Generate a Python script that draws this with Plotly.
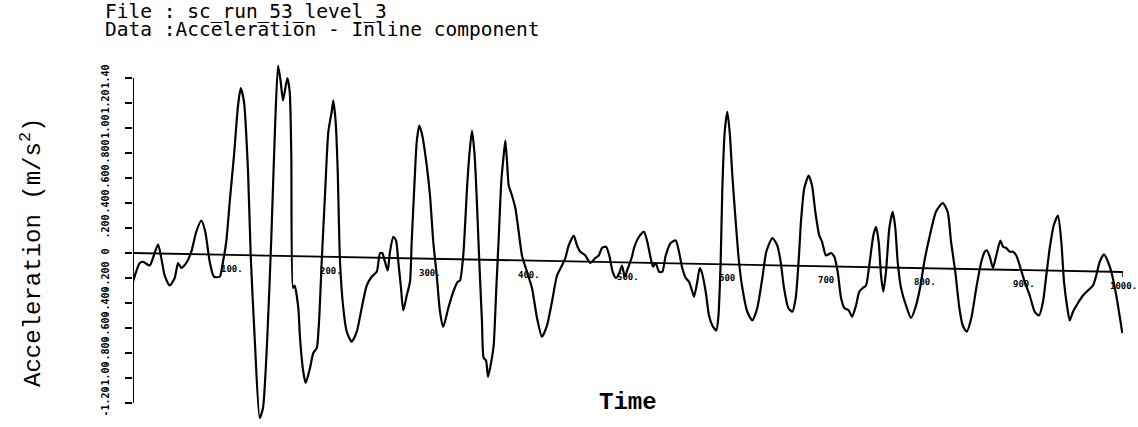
import plotly.graph_objects as go

# ---- data ----
time_steps = [0, 6.8, 10.1, 16.9, 20.2, 25.3, 28.6, 32.0, 37.1, 42.1, 45.5, 48.8, 53.8, 58.9, 63.9, 69.0, 73.0, 77.5,
              81.8, 87.6, 90.9, 94.2, 97.7, 102.0, 106.1, 108.8, 112.1, 116.2, 118.9, 122.9, 128.0, 131.3, 135.7,
              139.7, 143.1, 146.5, 149.2, 151.5, 155.9, 158.3, 159.9, 161.6, 163.3, 167.0, 168.7, 172.0, 174.4,
              178.8, 182.1, 185.6, 187.9, 190.6, 193.9, 197.3, 200.7, 202.3, 204.7, 206.8, 209.1, 212.4, 215.9,
              220.9, 226.0, 231.0, 236.1, 241.1, 246.2, 249.5, 251.8, 254.5, 257.3, 259.6, 262.9, 265.7, 268.0,
              270.7, 273.0, 276.5, 279.8, 281.5, 284.1, 286.6, 289.2, 292.2, 296.7, 300.0, 303.3, 306.8, 310.1,
              313.4, 318.5, 323.5, 328.0, 330.3, 333.6, 337.4, 339.7, 342.4, 345.1, 347.5, 349.8, 352.5, 354.2,
              356.6, 358.6, 361.9, 364.3, 367.0, 369.4, 372.0, 374.4, 376.1, 377.8, 379.5, 382.8, 386.2, 389.6,
              392.9, 398.0, 403.0, 408.1, 413.1, 418.2, 423.2, 428.3, 433.3, 436.7, 440.1, 445.2, 448.5, 451.8,
              456.9, 461.9, 467.0, 470.4, 473.7, 477.8, 481.1, 484.5, 487.9, 491.2, 494.0, 496.7, 500.0, 504.0,
              506.1, 511.1, 516.2, 519.5, 522.9, 525.3, 528.0, 531.3, 534.7, 538.1, 543.1, 548.2, 551.5, 554.8,
              558.3, 561.6, 565.0, 566.7, 570.0, 572.4, 574.4, 578.5, 581.8, 585.2, 589.2, 591.2, 593.6, 595.3,
              597.7, 600.3, 602.7, 605.4, 608.8, 612.1, 615.5, 620.5, 625.6, 630.6, 635.7, 639.7, 645.8, 650.8,
              654.2, 657.6, 661.9, 666.0, 669.4, 672.7, 674.7, 678.1, 682.5, 685.9, 689.2, 693.2, 696.0, 700.0,
              705.1, 708.4, 711.8, 715.2, 718.5, 723.0, 726.3, 730.3, 733.6, 737.1, 740.4, 743.7, 747.8, 750.5,
              753.2, 755.6, 757.9, 760.6, 764.0, 767.4, 770.0, 772.4, 775.8, 780.8, 785.9, 790.2, 795.0, 799.3,
              804.3, 811.1, 817.9, 822.9, 826.3, 830.6, 834.7, 838.1, 842.1, 846.8, 851.8, 856.9, 860.3, 862.6,
              865.4, 868.7, 872.0, 876.1, 878.8, 882.1, 885.6, 888.9, 892.2, 895.7, 900.7, 905.8, 910.8, 915.2,
              919.2, 922.5, 926.0, 930.0, 934.3, 937.7, 940.4, 943.4, 946.2, 949.5, 954.5, 959.6, 964.6, 969.7,
              973.0, 976.5, 980.8, 984.8, 988.2, 993.2, 999.3]

acceleration = [-0.23, -0.08, -0.07, -0.10, -0.04, 0.07, -0.04, -0.18, -0.26, -0.20, -0.08, -0.12, -0.08, 0.01, 0.17,
                0.26, 0.17, -0.07, -0.19, -0.19, -0.07, 0.09, 0.41, 0.78, 1.18, 1.32, 1.21, 0.65, -0.02, -0.68,
                -1.32, -1.24, -0.67, 0.12, 0.92, 1.50, 1.37, 1.22, 1.40, 1.29, 0.78, -0.28, -0.26, -0.44, -0.68,
                -0.95, -1.04, -0.92, -0.80, -0.76, -0.55, -0.07, 0.46, 0.97, 1.13, 1.22, 1.05, 0.65, -0.07, -0.44,
                -0.63, -0.71, -0.63, -0.44, -0.26, -0.19, -0.15, 0.00, 0.00, -0.07, -0.14, 0.01, 0.13, 0.10, -0.07,
                -0.28, -0.46, -0.34, -0.23, 0.09, 0.52, 0.89, 1.02, 0.94, 0.70, 0.46, 0.09, -0.18, -0.47, -0.59,
                -0.44, -0.31, -0.23, -0.22, -0.02, 0.52, 0.78, 0.98, 0.78, 0.38, -0.07, -0.55, -0.84, -0.86, -0.99,
                -0.87, -0.74, -0.28, 0.12, 0.57, 0.78, 0.90, 0.73, 0.54, 0.46, 0.36, 0.17, -0.02, -0.15, -0.28,
                -0.52, -0.67, -0.58, -0.39, -0.18, -0.10, -0.04, 0.06, 0.14, 0.06, 0.01, -0.02, -0.08, -0.04, -0.02,
                0.04, 0.05, -0.02, -0.15, -0.20, -0.16, -0.10, -0.19, -0.12, -0.03, 0.04, 0.13, 0.17, 0.09, -0.04,
                -0.11, -0.08, -0.15, -0.15, -0.02, 0.08, 0.10, 0.01, -0.12, -0.20, -0.23, -0.31, -0.35, -0.23,
                -0.12, -0.15, -0.31, -0.50, -0.58, -0.62, -0.52, -0.07, 0.52, 0.97, 1.13, 0.97, 0.62, 0.25, -0.07,
                -0.28, -0.47, -0.54, -0.44, -0.20, 0.01, 0.12, 0.06, -0.07, -0.28, -0.44, -0.47, -0.36, -0.02,
                0.25, 0.52, 0.62, 0.54, 0.33, 0.14, 0.09, -0.02, 0.00, -0.03, -0.15, -0.36, -0.44, -0.46, -0.51,
                -0.42, -0.31, -0.28, -0.26, -0.10, 0.14, 0.21, 0.09, -0.18, -0.31, -0.15, 0.20, 0.33, 0.20, -0.07,
                -0.28, -0.42, -0.52, -0.44, -0.28, -0.07, 0.12, 0.33, 0.40, 0.33, 0.09, -0.15, -0.44, -0.58, -0.63,
                -0.52, -0.28, -0.07, 0.01, 0.02, -0.03, -0.12, -0.02, 0.10, 0.05, 0.04, 0.01, 0.01, -0.02, -0.10,
                -0.23, -0.34, -0.47, -0.50, -0.39, -0.18, 0.04, 0.22, 0.30, 0.09, -0.23, -0.42, -0.54, -0.47,
                -0.40, -0.34, -0.30, -0.26, -0.18, -0.07, -0.01, -0.07, -0.15, -0.34, -0.64]

y_tick_values = [-1.2, -1.0, -0.8, -0.6, -0.4, -0.2, 0, 0.2, 0.4, 0.6, 0.8, 1.0, 1.2, 1.4]
y_tick_labels = ["-1.20", "-1.00", "-.800", "-.600", "-.400", "-.200", "0",
                 ".200", ".400", ".600", ".800", "1.00", "1.20", "1.40"]
x_tick_values = [100, 200, 300, 400, 500, 600, 700, 800, 900, 1000]
x_tick_labels = ["100.", "200.", "300.", "400.", "500.", "600", "700", "800.", "900.", "1000."]

title_line1 = "File : sc_run_53_level_3"
title_line2 = "Data :Acceleration - Inline component"
y_title = "Acceleration (m/s<sup>2</sup>)"
x_title = "Time"

# visual skew of the scanned base line (drop over the full time span)
baseline_drop = -0.152
T_END = 1000

fig = go.Figure()
fig.add_trace(go.Scatter(
    x=time_steps, y=acceleration, mode="lines",
    line=dict(color="black", width=2.2, shape="spline", smoothing=0.6),
    hoverinfo="skip", showlegend=False))

# skewed base (zero) line
fig.add_shape(type="line", xref="x", yref="y", x0=0, y0=0, x1=T_END, y1=baseline_drop,
              line=dict(color="black", width=1.8))
# small end tick
fig.add_shape(type="line", xref="x", yref="y", x0=T_END, y0=baseline_drop, x1=T_END, y1=baseline_drop - 0.04,
              line=dict(color="black", width=1.5))
# vertical axis line between first and last tick
fig.add_shape(type="line", xref="x", yref="y", x0=0, y0=y_tick_values[0], x1=0, y1=y_tick_values[-1],
              line=dict(color="black", width=2))

mono = "DejaVu Sans Mono"
for tv, tl in zip(x_tick_values, x_tick_labels):
    fig.add_annotation(x=tv, y=baseline_drop * tv / T_END, xref="x", yref="y", text=tl,
                       showarrow=False, xanchor="center", yanchor="middle", yshift=-14,
                       font=dict(family=mono, size=9, color="black", weight="bold"))

fig.add_annotation(x=-30 / 990, y=1.1176, xref="paper", yref="paper", text=title_line1,
                   showarrow=False, xanchor="left", yanchor="middle",
                   font=dict(family=mono, size=19.5, color="black"))
fig.add_annotation(x=-30 / 990, y=1.0676, xref="paper", yref="paper", text=title_line2,
                   showarrow=False, xanchor="left", yanchor="middle",
                   font=dict(family=mono, size=19.5, color="black"))
fig.add_annotation(x=-101 / 990, y=0.465, xref="paper", yref="paper", text=y_title, textangle=-90,
                   showarrow=False, xanchor="center", yanchor="middle",
                   font=dict(family="Liberation Mono", size=24, color="black"))
fig.add_annotation(x=0.5, y=0.062, xref="paper", yref="paper", text=x_title,
                   showarrow=False, xanchor="center", yanchor="middle",
                   font=dict(family="Liberation Mono", size=24, color="black", weight="bold"))

fig.update_layout(
    width=1138, height=427, autosize=False,
    margin=dict(l=133, r=15, t=55, b=2),
    paper_bgcolor="white", plot_bgcolor="white",
    xaxis=dict(range=[0, T_END], visible=False, fixedrange=True),
    yaxis=dict(range=[-1.376, 1.584], tickmode="array", tickvals=y_tick_values, ticktext=y_tick_labels,
               ticks="outside", ticklen=7, tickwidth=2, tickcolor="black", tickangle=-90,
               ticklabelstandoff=12,
               tickfont=dict(family=mono, size=10, color="black", weight="bold"),
               showgrid=False, zeroline=False, showline=False, fixedrange=True),
)

# remove the default page margin so the figure sits at the window's top-left corner
fig.write_html("out.html", config={"displayModeBar": False},
               post_script="document.body.style.margin='0';")
